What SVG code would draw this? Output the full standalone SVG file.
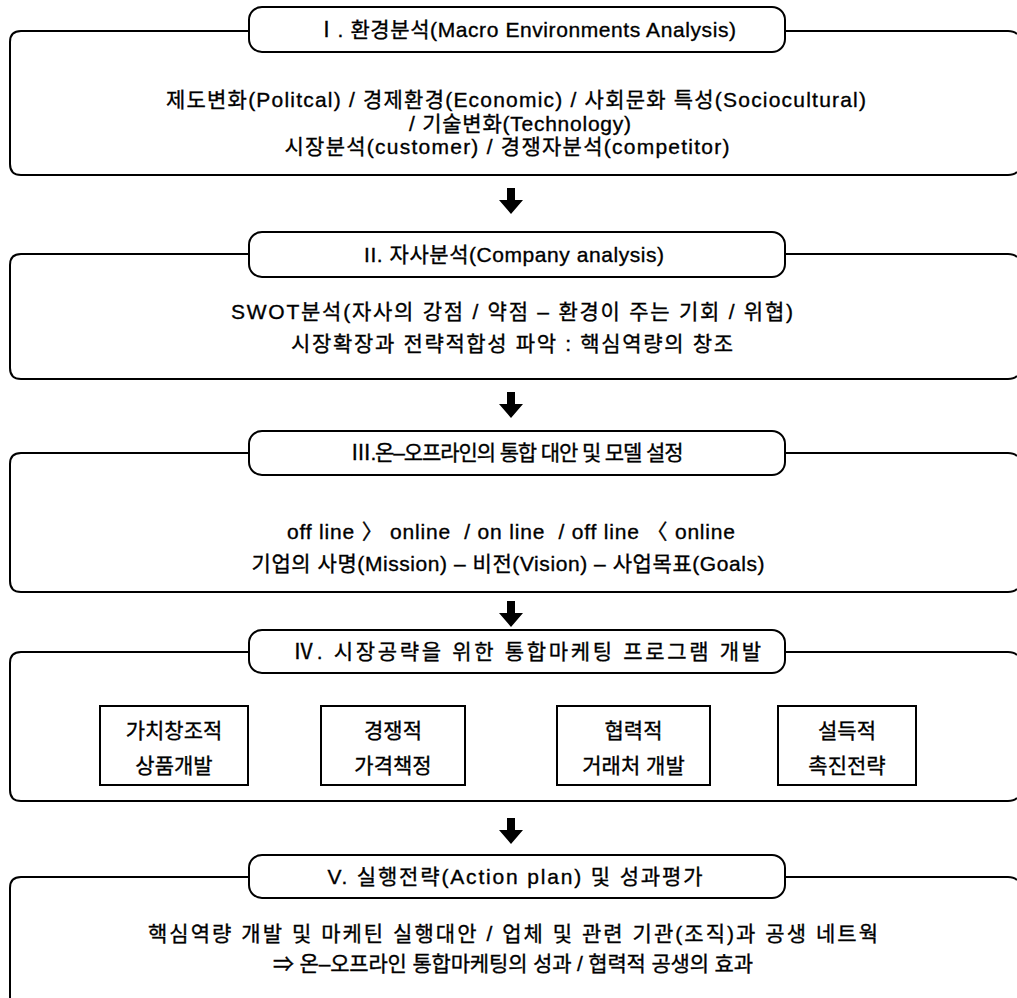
<svg xmlns="http://www.w3.org/2000/svg" width="1017" height="998" viewBox="0 0 1017 998">
<style>
.frame{fill:none;stroke:#000;stroke-width:2}
.tbox{fill:#fff;stroke:#000;stroke-width:2}
.sbox{fill:#fff;stroke:#000;stroke-width:2}
text{font-family:"Liberation Sans","Noto Sans CJK KR",sans-serif;font-size:21px;fill:#000;stroke:#000;stroke-width:0.35;text-anchor:middle}
.arrow{fill:#000}
</style>
<rect width="1017" height="998" fill="#fff"/>
<g id="section1">
<path class="frame" d="M1017 34 Q1014 31 1008 31 H21 Q10 31 10 42 V164 Q10 175 21 175 H1008 Q1014 175 1017 172"/>
<rect class="tbox" x="249" y="7" width="536" height="45" rx="13"/>
<text x="526" y="37" textLength="420" lengthAdjust="spacing">Ⅰ. 환경분석(Macro Environments Analysis)</text>
<text x="516" y="107" textLength="700" lengthAdjust="spacing">제도변화(Politcal) / 경제환경(Economic) / 사회문화 특성(Sociocultural)</text>
<text x="520" y="131" textLength="222" lengthAdjust="spacing">/ 기술변화(Technology)</text>
<text x="507" y="154" textLength="445" lengthAdjust="spacing">시장분석(customer) / 경쟁자분석(competitor)</text>
</g>
<g id="section2">
<path class="frame" d="M1017 257 Q1014 254 1008 254 H21 Q10 254 10 265 V368 Q10 379 21 379 H1008 Q1014 379 1017 376"/>
<rect class="tbox" x="249" y="232" width="536" height="45" rx="13"/>
<text x="514" y="262" textLength="300" lengthAdjust="spacing">II. 자사분석(Company analysis)</text>
<text x="512" y="319" textLength="562" lengthAdjust="spacing">SWOT분석(자사의 강점 / 약점 – 환경이 주는 기회 / 위협)</text>
<text x="512" y="351" textLength="442" lengthAdjust="spacing">시장확장과 전략적합성 파악 : 핵심역량의 창조</text>
</g>
<g id="section3">
<path class="frame" d="M1017 456 Q1014 453 1008 453 H21 Q10 453 10 464 V581 Q10 592 21 592 H1008 Q1014 592 1017 589"/>
<rect class="tbox" x="249" y="431" width="536" height="44" rx="13"/>
<text x="517" y="460" textLength="333" lengthAdjust="spacing">Ⅲ.온–오프라인의 통합 대안 및 모델 설정</text>
<text x="511" y="539" textLength="448" lengthAdjust="spacing" xml:space="preserve">off line 〉 online  / on line  / off line 〈 online</text>
<text x="508" y="571" textLength="513" lengthAdjust="spacing">기업의 사명(Mission) – 비전(Vision) – 사업목표(Goals)</text>
</g>
<g id="section4">
<path class="frame" d="M1017 655 Q1014 652 1008 652 H21 Q10 652 10 663 V790 Q10 801 21 801 H1008 Q1014 801 1017 798"/>
<rect class="tbox" x="249" y="630" width="536" height="43" rx="13"/>
<text x="527" y="659" textLength="468" lengthAdjust="spacing">Ⅳ. 시장공략을 위한 통합마케팅 프로그램 개발</text>
<g id="box-product">
<rect class="sbox" x="100" y="706" width="148" height="79"/>
<text x="174" y="738">가치창조적</text>
<text x="174" y="773">상품개발</text>
</g>
<g id="box-price">
<rect class="sbox" x="321" y="706" width="144" height="79"/>
<text x="393" y="738">경쟁적</text>
<text x="393" y="773">가격책정</text>
</g>
<g id="box-partner">
<rect class="sbox" x="557" y="706" width="153" height="79"/>
<text x="633.5" y="738">협력적</text>
<text x="633.5" y="773">거래처 개발</text>
</g>
<g id="box-promotion">
<rect class="sbox" x="778" y="706" width="138" height="79"/>
<text x="847" y="738">설득적</text>
<text x="847" y="773">촉진전략</text>
</g>
</g>
<g id="section5">
<path class="frame" d="M1017 880 Q1014 877 1008 877 H21 Q10 877 10 888 V1005"/>
<rect class="tbox" x="249" y="855" width="536" height="43" rx="13"/>
<text x="515" y="884" textLength="375" lengthAdjust="spacing">V. 실행전략(Action plan) 및 성과평가</text>
<text x="513" y="941" textLength="730" lengthAdjust="spacing">핵심역량 개발 및 마케틴 실행대안 / 업체 및 관련 기관(조직)과 공생 네트웍</text>
<text x="513" y="971" textLength="480" lengthAdjust="spacing">⇒ 온–오프라인 통합마케팅의 성과 / 협력적 공생의 효과</text>
</g>
<g id="connectors">
<path class="arrow" d="M507 188 H515 V200 H523 L511 214 L499 200 H507 Z"/>
<path class="arrow" d="M507 392 H515 V404 H523 L511 418 L499 404 H507 Z"/>
<path class="arrow" d="M507 601 H515 V613 H523 L511 627 L499 613 H507 Z"/>
<path class="arrow" d="M507 818 H515 V830 H523 L511 844 L499 830 H507 Z"/>
</g>
</svg>
